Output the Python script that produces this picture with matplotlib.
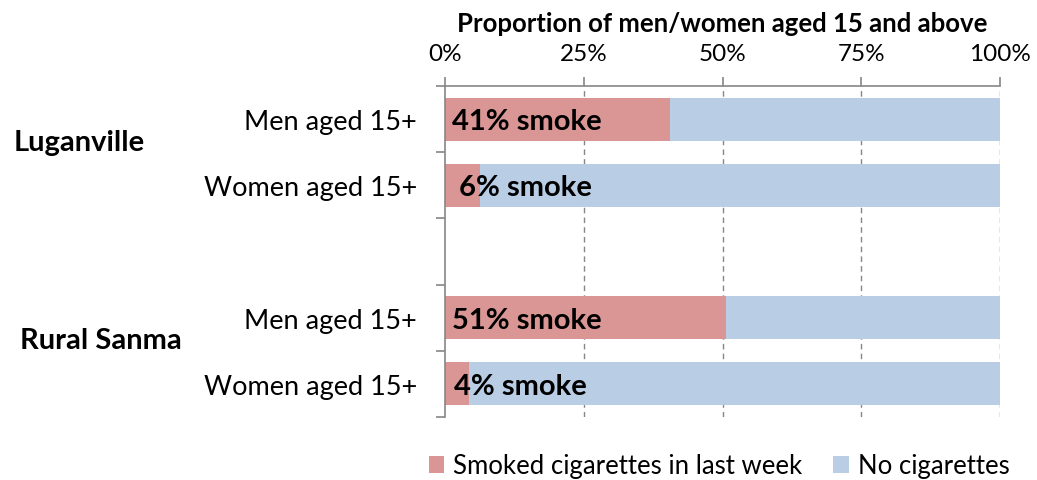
import matplotlib
matplotlib.use('Agg')
import matplotlib.pyplot as plt
import numpy as np

plt.rcParams['font.family'] = ['Lato', 'DejaVu Sans']

# rows top to bottom, blank row separates the two places
rows = ['Men aged 15+', 'Women aged 15+', '', 'Men aged 15+', 'Women aged 15+']
smoked = [40.6, 6.3, 0, 50.6, 4.3]
labels = ['41% smoke', '6% smoke', '', '51% smoke', '4% smoke']
groups = ['Luganville', 'Rural Sanma']
series_names = ['Smoked cigarettes in last week', 'No cigarettes']
pink = '#D99694'
blue = '#B9CDE5'
grey = '#868686'

fig = plt.figure(figsize=(10.37, 4.81), dpi=100)
ax = fig.add_axes([445/1037, 1 - 418/481, 555/1037, 331/481])

y = np.arange(len(rows))
smoked = np.array(smoked)
none = np.where(np.array(rows) == '', 0, 100 - smoked)
ax.barh(y, smoked, height=0.65, color=pink, label=series_names[0])
ax.barh(y, none, left=smoked, height=0.65, color=blue, label=series_names[1])

for yi, txt, xo in zip(y, labels, [1.3, 2.5, 0, 1.3, 1.6]):
    if txt:
        ax.text(xo, yi + 0.03, txt, va='center', ha='left', fontsize=21,
                fontweight='bold', color='black')

ax.set_ylim(len(rows) - 0.5, -0.5)
ax.set_xlim(0, 100)
# separator ticks between rows, labels sit on minor ticks
ax.set_yticks(np.arange(-0.5, len(rows), 1))
ax.set_yticklabels([])
ax.tick_params(axis='y', which='major', length=6.5, width=1.2, color=grey)
ax.set_yticks(y, minor=True)
ax.set_yticklabels(rows, minor=True, fontsize=19.5)
ax.tick_params(axis='y', which='minor', length=0, pad=20)

ax.xaxis.tick_top()
ax.set_xticks([0, 25, 50, 75, 100])
ax.set_xticklabels(['0%', '25%', '50%', '75%', '100%'], fontsize=17.5)
ax.tick_params(axis='x', length=6.5, width=1.2, color=grey, pad=9)
ax.xaxis.set_label_position('top')
ax.set_xlabel('Proportion of men/women aged 15 and above', fontsize=18.5,
              fontweight='bold', labelpad=9)

for gx in [25, 50, 75, 100]:
    ax.axvline(gx, color=grey, lw=1, ls=(0, (4, 3)), zorder=0)

for s in ['right', 'bottom']:
    ax.spines[s].set_visible(False)
for s in ['left', 'top']:
    ax.spines[s].set_color(grey)
    ax.spines[s].set_linewidth(1.2)

fig.text(79/1037, 1 - 143/481, groups[0], ha='center', va='center',
         fontsize=21, fontweight='bold')
fig.text(101/1037, 1 - 341/481, groups[1], ha='center', va='center',
         fontsize=21, fontweight='bold')

fig.legend(loc='center', bbox_to_anchor=(719/1037, 1 - 467/481), ncol=2,
           frameon=False, fontsize=18.5, handlelength=0.6, handleheight=0.6,
           handletextpad=0.35, columnspacing=1.2)

fig.savefig('out.png', dpi=100)
